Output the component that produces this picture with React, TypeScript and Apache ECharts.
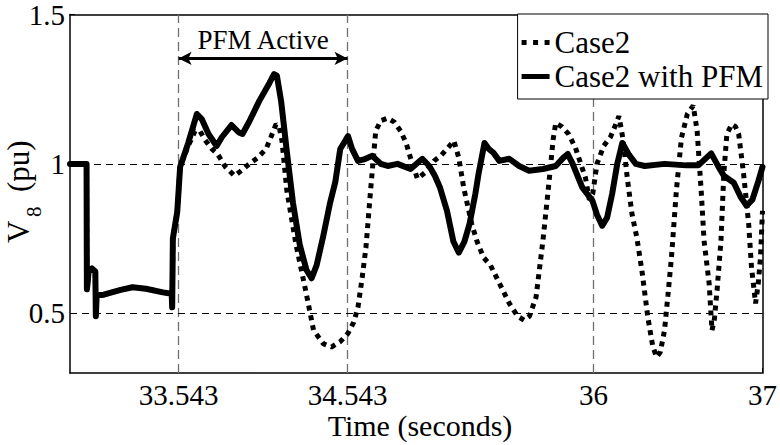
import React, { useEffect, useRef } from 'react';
import * as echarts from 'echarts';

const xTicks = [33.543, 34.543, 36, 37];
const xGridLines = [33.543, 34.543, 36];
const yTicks = [0.5, 1, 1.5];
const yGridLines = [0.5, 1];
const pfmWindow = [33.543, 34.543];
const pfmArrowLevel = 1.353;

const case2: [number, number][] = [
  [32.9, 1.0], [32.998, 1.0], [33.0, 0.58], [33.004, 0.6], [33.01, 0.64], [33.03, 0.65], [33.05, 0.64],
  [33.053, 0.49], [33.058, 0.56], [33.1, 0.562], [33.2, 0.578], [33.27, 0.587], [33.35, 0.582], [33.45, 0.57],
  [33.502, 0.565], [33.505, 0.52], [33.509, 0.75], [33.535, 0.84], [33.552, 0.99], [33.6, 1.06], [33.64, 1.11],
  [33.669, 1.11], [33.7, 1.08], [33.74, 1.05], [33.774, 1.033], [33.82, 0.99], [33.874, 0.96], [33.92, 0.98],
  [33.962, 1.0], [34.01, 1.02], [34.061, 1.05], [34.09, 1.09], [34.12, 1.133], [34.14, 1.12], [34.155, 1.077],
  [34.184, 0.91], [34.237, 0.733], [34.295, 0.577], [34.342, 0.443], [34.4, 0.398], [34.448, 0.387], [34.5, 0.405],
  [34.546, 0.433], [34.58, 0.47], [34.605, 0.52], [34.63, 0.62], [34.652, 0.72], [34.681, 0.92], [34.71, 1.11],
  [34.74, 1.145], [34.781, 1.153], [34.82, 1.14], [34.857, 1.11], [34.89, 1.07], [34.916, 1.02], [34.957, 0.95],
  [35.0, 0.97], [35.056, 1.01], [35.1, 1.03], [35.132, 1.05], [35.173, 1.077], [35.202, 1.02], [35.231, 0.92],
  [35.278, 0.8], [35.31, 0.74], [35.348, 0.687], [35.39, 0.66], [35.425, 0.62], [35.46, 0.58], [35.501, 0.533],
  [35.55, 0.49], [35.589, 0.477], [35.62, 0.49], [35.659, 0.553], [35.7, 0.743], [35.735, 0.933], [35.76, 1.08],
  [35.776, 1.137], [35.81, 1.125], [35.852, 1.1], [35.893, 1.053], [35.93, 0.99], [35.952, 0.953], [35.975, 0.88],
  [35.995, 0.9], [36.02, 1.0], [36.06, 1.06], [36.1, 1.09], [36.13, 1.13], [36.15, 1.16], [36.175, 1.08],
  [36.2, 0.95], [36.227, 0.833], [36.256, 0.753], [36.286, 0.643], [36.321, 0.487], [36.35, 0.39], [36.373, 0.353],
  [36.395, 0.37], [36.42, 0.443], [36.44, 0.56], [36.461, 0.687], [36.49, 0.91], [36.52, 1.087], [36.555, 1.167],
  [36.59, 1.195], [36.613, 1.11], [36.637, 0.91], [36.654, 0.743], [36.684, 0.6], [36.701, 0.443], [36.715, 0.48],
  [36.731, 0.577], [36.754, 0.743], [36.771, 0.967], [36.789, 1.1], [36.818, 1.133], [36.84, 1.125], [36.859, 1.1],
  [36.888, 0.967], [36.918, 0.8], [36.935, 0.653], [36.959, 0.533], [36.975, 0.6], [36.988, 0.687], [37.0, 0.843],
];

const case2PFM: [number, number][] = [
  [32.9, 1.0], [32.998, 1.0], [33.0, 0.58], [33.004, 0.6], [33.01, 0.64], [33.03, 0.65], [33.05, 0.64],
  [33.053, 0.49], [33.058, 0.56], [33.1, 0.562], [33.2, 0.578], [33.27, 0.587], [33.35, 0.582], [33.45, 0.57],
  [33.502, 0.565], [33.505, 0.52], [33.509, 0.75], [33.535, 0.84], [33.552, 0.99], [33.6, 1.07], [33.651, 1.167],
  [33.68, 1.15], [33.72, 1.1], [33.768, 1.06], [33.8, 1.09], [33.856, 1.13], [33.9, 1.105], [33.921, 1.1],
  [33.96, 1.14], [34.02, 1.21], [34.08, 1.27], [34.108, 1.3], [34.125, 1.295], [34.15, 1.21], [34.184, 1.04],
  [34.22, 0.87], [34.26, 0.73], [34.3, 0.645], [34.33, 0.617], [34.36, 0.66], [34.4, 0.76], [34.44, 0.87],
  [34.471, 0.94], [34.5, 1.05], [34.546, 1.093], [34.57, 1.05], [34.605, 1.01], [34.64, 1.015], [34.69, 1.027],
  [34.74, 1.0], [34.781, 0.993], [34.839, 1.0], [34.916, 0.983], [34.986, 1.017], [35.027, 0.993], [35.06, 0.96],
  [35.091, 0.92], [35.132, 0.843], [35.17, 0.74], [35.202, 0.703], [35.235, 0.74], [35.266, 0.8], [35.3, 0.9],
  [35.319, 0.967], [35.354, 1.07], [35.38, 1.05], [35.407, 1.037], [35.442, 1.01], [35.501, 1.017], [35.559, 0.993],
  [35.618, 0.977], [35.7, 0.983], [35.776, 0.993], [35.82, 1.02], [35.847, 1.033], [35.876, 1.0], [35.934, 0.92],
  [35.993, 0.877], [36.02, 0.83], [36.051, 0.793], [36.08, 0.82], [36.11, 0.9], [36.14, 1.0], [36.17, 1.07],
  [36.21, 1.03], [36.25, 1.0], [36.303, 0.993], [36.42, 1.0], [36.55, 0.995], [36.62, 0.995], [36.696, 1.035],
  [36.74, 0.99], [36.771, 0.96], [36.83, 0.937], [36.87, 0.89], [36.906, 0.86], [36.94, 0.88], [36.976, 0.943],
  [37.0, 0.99],
];

const FONT = 'Liberation Serif';
const DOTTED_ICON = 'path://M0,0h5v5h-5zM11.5,0h5v5h-5zM23,0h5v5h-5z';
const SOLID_ICON = 'path://M0,0h28v5h-28z';

export default function App() {
  const ref = useRef<HTMLDivElement>(null);
  useEffect(() => {
    const chart = echarts.init(ref.current!, null, { renderer: 'svg' });
    const axisCommon = {
      type: 'value',
      axisLine: { show: true, lineStyle: { color: '#000', width: 1.5 } },
      splitLine: { show: false },
    };
    const option: any = {
      animation: false,
      backgroundColor: '#fff',
      grid: { left: 70, right: 11, top: 14, bottom: 72, containLabel: false },
      legend: {
        data: [
          { name: 'Case2', icon: DOTTED_ICON },
          { name: 'Case2 with PFM', icon: SOLID_ICON },
        ],
        orient: 'vertical',
        right: 12,
        top: 14,
        padding: [13, 5, 7, 4],
        itemGap: 3,
        itemWidth: 28,
        itemHeight: 5,
        itemTextGap: 2,
        backgroundColor: '#fff',
        borderColor: '#000',
        borderWidth: 1,
        textStyle: { fontFamily: FONT, fontSize: 31, color: '#000' },
      },
      xAxis: [
        {
          ...axisCommon,
          min: 32.9,
          max: 37,
          position: 'bottom',
          axisTick: { show: true, inside: true, length: 5, customValues: xTicks, lineStyle: { color: '#000' } },
          axisLabel: {
            show: true,
            customValues: xTicks,
            formatter: (v: number) => String(v),
            fontFamily: FONT,
            fontSize: 29,
            color: '#000',
            margin: 7,
          },
        },
        {
          ...axisCommon,
          min: 32.9,
          max: 37,
          position: 'top',
          axisTick: { show: true, inside: true, length: 5, customValues: xTicks, lineStyle: { color: '#000' } },
          axisLabel: { show: false },
        },
      ],
      yAxis: [
        {
          ...axisCommon,
          min: 0.3,
          max: 1.5,
          position: 'left',
          axisTick: { show: true, inside: true, length: 5, customValues: yTicks, lineStyle: { color: '#000' } },
          axisLabel: {
            show: true,
            customValues: yTicks,
            formatter: (v: number) => String(v),
            fontFamily: FONT,
            fontSize: 29,
            color: '#000',
            margin: 5,
          },
        },
        {
          ...axisCommon,
          min: 0.3,
          max: 1.5,
          position: 'right',
          axisTick: { show: true, inside: true, length: 5, customValues: yTicks, lineStyle: { color: '#000' } },
          axisLabel: { show: false },
        },
      ],
      graphic: [
        {
          type: 'group',
          x: 0,
          y: 192,
          rotation: Math.PI / 2,
          children: [
            { type: 'text', x: -51, y: 18, style: { text: 'V', fontFamily: FONT, fontSize: 31, fill: '#000', textAlign: 'left', textVerticalAlign: 'middle' } },
            { type: 'text', x: -25, y: 34, style: { text: '8', fontFamily: FONT, fontSize: 21, fill: '#000', textAlign: 'left', textVerticalAlign: 'middle' } },
            { type: 'text', x: 0, y: 18, style: { text: '(pu)', fontFamily: FONT, fontSize: 31, fill: '#000', textAlign: 'left', textVerticalAlign: 'middle' } },
          ],
        },
        {
          type: 'text',
          x: 420,
          y: 425,
          style: { text: 'Time (seconds)', fontFamily: FONT, fontSize: 30, fill: '#000', textAlign: 'center', textVerticalAlign: 'middle' },
        },
      ],
      series: [
        {
          name: 'gridlines',
          type: 'line',
          data: [],
          z: 1,
          silent: true,
          markLine: {
            silent: true,
            z: 1,
            symbol: ['none', 'none'],
            label: { show: false },
            data: [
              ...xGridLines.map((v) => ({ xAxis: v, lineStyle: { color: '#707070', type: [9, 5], width: 1.3 } })),
              ...yGridLines.map((v) => ({ yAxis: v, lineStyle: { color: '#000', type: [7, 5], width: 1 } })),
            ],
          },
        },
        {
          name: 'Case2',
          type: 'line',
          data: case2,
          symbol: 'none',
          z: 2,
          itemStyle: { color: '#000' },
          lineStyle: { color: '#000', width: 5, type: [5, 5], cap: 'butt' },
        },
        {
          name: 'Case2 with PFM',
          type: 'line',
          data: case2PFM,
          symbol: 'none',
          z: 3,
          itemStyle: { color: '#000' },
          lineStyle: { color: '#000', width: 6, type: 'solid', join: 'round', cap: 'round' },
          markLine: {
            silent: true,
            symbol: ['arrow', 'arrow'],
            symbolSize: [10, 13],
            lineStyle: { color: '#000', width: 3, type: 'solid' },
            label: {
              show: true,
              position: 'middle',
              formatter: 'PFM Active',
              fontFamily: FONT,
              fontSize: 27,
              color: '#000',
              distance: 5,
            },
            data: [[{ coord: [pfmWindow[0], pfmArrowLevel] }, { coord: [pfmWindow[1], pfmArrowLevel] }]],
          },
        },
      ],
    };
    chart.setOption(option);
    return () => chart.dispose();
  }, []);
  return (
    <div
      ref={ref}
      style={{ position: 'fixed', left: 0, top: 0, width: 780, height: 445, background: '#fff' }}
    />
  );
}
